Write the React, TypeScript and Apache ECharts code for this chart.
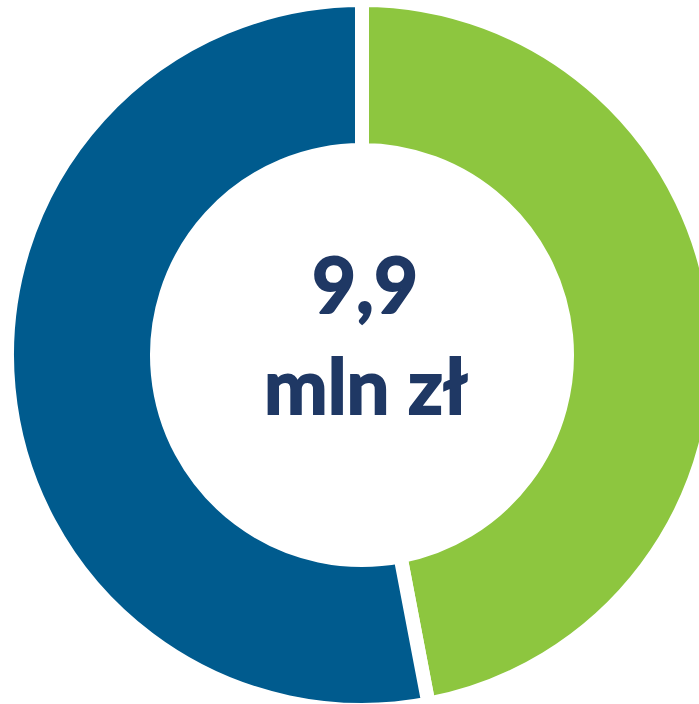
import React, { useEffect, useRef } from "react";
import * as echarts from "echarts";

const categories = ["Część A", "Część B"];
const shares = [47, 53];
const colors = ["#8DC63F", "#005B8E"];
const centerLines = ["9,9", "mln zł"];

export default function App() {
  const ref = useRef<HTMLDivElement>(null);
  useEffect(() => {
    if (!ref.current) return;
    const chart = echarts.init(ref.current, null, { renderer: "svg" });
    const textStyle = {
      font: "bold 76px Lato",
      fill: "#1F3864",
      stroke: "#1F3864",
      lineWidth: 2,
      textAlign: "center",
      textVerticalAlign: "middle",
    };
    chart.setOption({
      animation: false,
      backgroundColor: "#ffffff",
      series: [
        {
          type: "pie",
          center: [362, 355],
          radius: [205, 355],
          startAngle: 90,
          clockwise: true,
          label: { show: false },
          labelLine: { show: false },
          emphasis: { disabled: true },
          itemStyle: { borderColor: "#ffffff", borderWidth: 14, borderJoin: "miter" },
          data: categories.map((name, i) => ({
            name,
            value: shares[i],
            itemStyle: { color: colors[i] },
          })),
        },
      ],
      graphic: [
        {
          type: "text",
          x: 365,
          y: 283,
          style: { ...textStyle, text: centerLines[0] },
        },
        {
          type: "text",
          x: 366,
          y: 384,
          style: { ...textStyle, text: centerLines[1] },
        },
      ],
    });
    return () => chart.dispose();
  }, []);
  return (
    <div
      ref={ref}
      style={{ position: "fixed", left: 0, top: 0, width: 699, height: 704 }}
    />
  );
}
